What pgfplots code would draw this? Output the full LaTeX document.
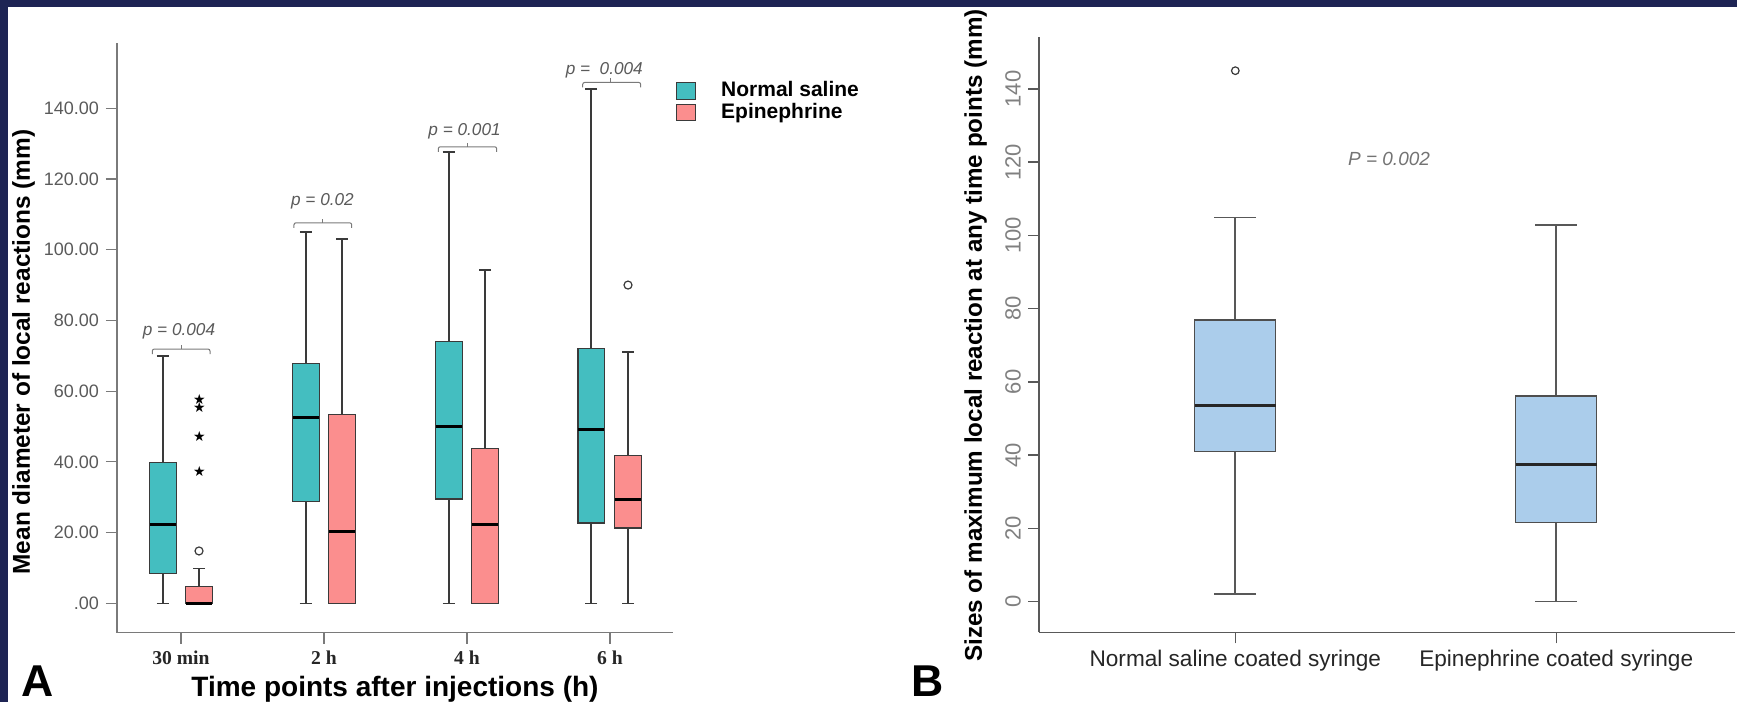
\documentclass[border=0pt]{standalone}
\usepackage{fontspec}
\setmainfont{Liberation Sans}
\newfontfamily\tnr{Liberation Serif}
\newfontfamily\dejavu{DejaVu Sans}
\usepackage{graphicx}
\usepackage{pgfplots}
\pgfplotsset{compat=1.18}
\usepgfplotslibrary{statistics}
\definecolor{navy}{HTML}{1E2454}
\definecolor{tealc}{HTML}{44BEC0}
\definecolor{pinkc}{HTML}{FB8E8E}
\definecolor{bluec}{HTML}{ABCDEB}
\definecolor{edgec}{HTML}{3A3A3A}
\definecolor{axc}{HTML}{7A7A7A}
\definecolor{txtc}{HTML}{5A5A5A}
\newcommand{\fsz}[1]{\fontsize{#1}{#1}\selectfont}
\newcommand{\rb}[1]{\rotatebox{90}{#1}}
\pgfplotsset{
  bxA/.style={boxplot prepared={#1, box extend=0.185, whisker extend=0.084},
    boxplot/draw direction=y,
    draw=edgec, line width=0.55pt,
    boxplot/every whisker/.style={draw=edgec, line width=0.8pt},
    boxplot/every median/.style={draw=black, line width=1.6pt}},
  bxB/.style={boxplot prepared={#1, box extend=2.52, whisker extend=1.3},
    boxplot/draw direction=y,
    draw=edgec!90, line width=0.6pt,
    boxplot/every whisker/.style={draw=edgec!85, line width=0.9pt},
    boxplot/every median/.style={draw=black!85, line width=1.5pt}},
}
\tikzset{
  brk/.style={draw=axc, line width=0.5pt, rounded corners=1pt},
  ptext/.style={font=\itshape\fsz{8.6}, text=txtc, inner sep=0pt},
}
\begin{document}
\begin{tikzpicture}
\path[use as bounding box] (0,0) rectangle (868.5pt,351pt);
\clip (0,0) rectangle (868.5pt,351pt);
\begin{scope}[x=0.5pt,y=-0.5pt,shift={(0pt,351pt)}]
  \fill[white] (0,0) rectangle (1737,702);
  \fill[navy] (0,0) rectangle (1737,7);
  \fill[navy] (0,0) rectangle (8,702);
\end{scope}

% ---------------- Panel A ----------------
\begin{axis}[
  at={(58.5pt,34.65pt)}, anchor=south west, scale only axis,
  width=278pt, height=294.7pt,
  xmin=-0.4476, xmax=3.4406, ymin=-8.31, ymax=158.37,
  axis x line*=bottom, axis y line*=left,
  axis line style={-, draw=axc, line width=0.6pt},
  tick align=outside, major tick length=5.5pt,
  tick style={draw=axc, line width=0.6pt},
  ytick={0,20,40,60,80,100,120,140},
  yticklabels={.00,20.00,40.00,60.00,80.00,100.00,120.00,140.00},
  yticklabel style={font=\fsz{9}, text=txtc},
  xtick={0,1,2,3}, xticklabels={30 min,2 h,4 h,6 h},
  xticklabel style={font=\tnr\bfseries\fsz{9.8}, text=black!85},
  /pgf/number format/assume math mode=true,
  clip=false,
  legend style={at={(rel axis cs:1.0054,0.9348)}, anchor=north west,
    draw=none, fill=none, inner sep=0pt, outer sep=0pt, row sep=1.2pt, column sep=12.5pt,
    font=\bfseries\fsz{10.5},
    nodes={inner sep=0pt, anchor=west, text height=7.6pt, text depth=1.9pt}},
  legend cell align=left,
]
\addlegendimage{legend image code/.code={\draw[fill=tealc,draw=edgec,line width=0.5pt] (0pt,-4.15pt) rectangle (9.6pt,4.15pt);}}
\addlegendentry{Normal saline}
\addlegendimage{legend image code/.code={\draw[fill=pinkc,draw=edgec,line width=0.5pt] (0pt,-4.15pt) rectangle (9.6pt,4.15pt);}}
\addlegendentry{Epinephrine}

% 30 min
\addplot[bxA={draw position=-0.126, lower whisker=0, lower quartile=8.5, median=22.4, upper quartile=39.8, upper whisker=70.0}, fill=tealc] coordinates {};
\addplot[bxA={draw position=0.126, lower whisker=0, lower quartile=0, median=0, upper quartile=4.7, upper whisker=9.9}, fill=pinkc] coordinates {};
% 2 h
\addplot[bxA={draw position=0.874, lower whisker=0, lower quartile=28.7, median=52.5, upper quartile=67.9, upper whisker=105.0}, fill=tealc] coordinates {};
\addplot[bxA={draw position=1.126, lower whisker=0, lower quartile=0, median=20.4, upper quartile=53.4, upper whisker=103.0}, fill=pinkc] coordinates {};
% 4 h
\addplot[bxA={draw position=1.874, lower whisker=0, lower quartile=29.5, median=49.9, upper quartile=74.0, upper whisker=127.7}, fill=tealc] coordinates {};
\addplot[bxA={draw position=2.126, lower whisker=0, lower quartile=0, median=22.4, upper quartile=43.7, upper whisker=94.2}, fill=pinkc] coordinates {};
% 6 h
\addplot[bxA={draw position=2.869, lower whisker=0, lower quartile=22.7, median=49.2, upper quartile=72.1, upper whisker=145.4}, fill=tealc] coordinates {};
\addplot[bxA={draw position=3.126, lower whisker=0, lower quartile=21.3, median=29.4, upper quartile=41.9, upper whisker=71.1}, fill=pinkc] coordinates {};

% outliers
\addplot[only marks, mark=o, mark size=2pt, draw=edgec, line width=0.6pt] coordinates {(0.126,14.8) (3.126,90.0)};
\addplot[only marks, mark=text, text mark={\dejavu\fsz{7}★}, color=edgec] coordinates {(0.128,37.2) (0.128,47.3) (0.128,55.4) (0.128,57.6)};

% brackets and p values
\draw[brk] ([yshift=-2.5pt]axis cs:-0.2007,71.9) -- (axis cs:-0.2007,71.9) -- (axis cs:0.2028,71.9) -- ([yshift=-2.5pt]axis cs:0.2028,71.9);
\draw[draw=axc, line width=0.5pt] (axis cs:0.005,71.9) -- ([yshift=2pt]axis cs:0.005,71.9);
\node[ptext] at (axis cs:-0.014,77.0) {p = 0.004};

\draw[brk] ([yshift=-2.5pt]axis cs:0.790,107.6) -- (axis cs:0.790,107.6) -- (axis cs:1.1937,107.6) -- ([yshift=-2.5pt]axis cs:1.1937,107.6);
\draw[draw=axc, line width=0.5pt] (axis cs:0.992,107.6) -- ([yshift=2pt]axis cs:0.992,107.6);
\node[ptext] at (axis cs:0.989,113.6) {p = 0.02};

\draw[brk] ([yshift=-2.5pt]axis cs:1.799,129.1) -- (axis cs:1.799,129.1) -- (axis cs:2.208,129.1) -- ([yshift=-2.5pt]axis cs:2.208,129.1);
\draw[draw=axc, line width=0.5pt] (axis cs:2.003,129.1) -- ([yshift=2pt]axis cs:2.003,129.1);
\node[ptext] at (axis cs:1.983,133.4) {p = 0.001};

\draw[brk] ([yshift=-2.5pt]axis cs:2.809,147.3) -- (axis cs:2.809,147.3) -- (axis cs:3.215,147.3) -- ([yshift=-2.5pt]axis cs:3.215,147.3);
\draw[draw=axc, line width=0.5pt] (axis cs:3.005,147.3) -- ([yshift=2pt]axis cs:3.005,147.3);
\node[ptext] at (axis cs:2.96,150.8) {p =\ \ 0.004};
\end{axis}

% ---------------- Panel B ----------------
\begin{axis}[
  at={(519.5pt,34.85pt)}, anchor=south west, scale only axis,
  width=348pt, height=297.8pt,
  xmin=3.883, xmax=25.57, ymin=-8.44, ymax=154.29,
  axis x line*=bottom, axis y line*=left,
  axis line style={-, draw=black!65, line width=0.7pt},
  tick align=outside, major tick length=5.5pt,
  tick style={draw=black!65, line width=0.7pt},
  ytick={0,20,40,60,80,100,120,140},
  yticklabels={\rb{0},\rb{20},\rb{40},\rb{60},\rb{80},\rb{100},\rb{120},\rb{140}},
  yticklabel style={anchor=east, font=\fsz{11}, text=black!50},
  xtick={10,20}, xticklabels={Normal saline coated syringe,Epinephrine coated syringe},
  xticklabel style={font=\fsz{11.3}, text=black!85},
  /pgf/number format/assume math mode=true,
  clip=false,
]
\addplot[bxB={draw position=10, lower whisker=2.0, lower quartile=40.9, median=53.5, upper quartile=76.9, upper whisker=104.9}, fill=bluec] coordinates {};
\addplot[bxB={draw position=20, lower whisker=0, lower quartile=21.5, median=37.5, upper quartile=56.1, upper whisker=102.9}, fill=bluec] coordinates {};
\addplot[only marks, mark=o, mark size=1.9pt, draw=edgec, line width=0.6pt] coordinates {(10,145.0)};
\node[font=\itshape\fsz{9.5}, text=black!55, inner sep=0pt] at (axis cs:14.79,120.8) {P = 0.002};
\end{axis}

% ---------------- labels ----------------
\begin{scope}[x=0.5pt,y=-0.5pt,shift={(0pt,351pt)}]
  \node[rotate=90, font=\bfseries\fsz{12.2}, inner sep=0pt] at (23.6,352) {Mean diameter of local reactions (mm)};
  \node[anchor=base, font=\bfseries\fsz{14}, inner sep=0pt] at (395,697) {Time points after injections (h)};
  \node[anchor=base west, inner sep=0pt, font=\bfseries\fsz{22.3}] at (21,697) {A};
  \node[anchor=base west, inner sep=0pt, font=\bfseries\fsz{22.3}] at (911,697) {B};
  \node[rotate=90, font=\bfseries\fsz{12.1}, inner sep=0pt] at (975.5,335.5) {Sizes of maximum local reaction at any time points (mm)};
\end{scope}
\end{tikzpicture}
\end{document}
